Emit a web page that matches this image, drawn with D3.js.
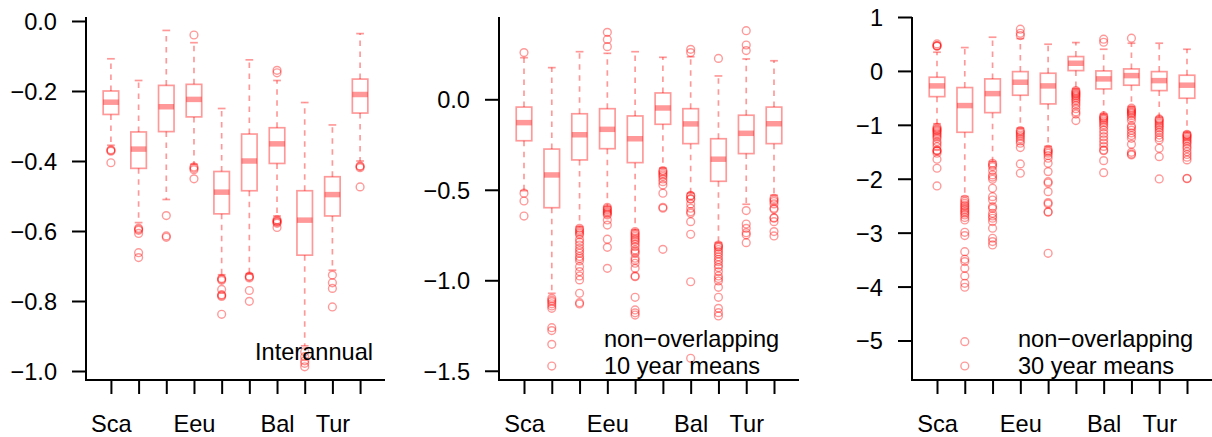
<!DOCTYPE html>
<html>
<head>
<meta charset="utf-8">
<script src="https://cdn.jsdelivr.net/npm/d3@7"></script>
<style>
  html, body { margin: 0; padding: 0; background: #fff; }
  svg text { font-family: "Liberation Sans", Arial, Helvetica, sans-serif; fill: #000; }
</style>
</head>
<body>
<svg id="chart" width="1212" height="437"></svg>
<script>
// Region tick labels (blank where the axis leaves a slot unlabelled)
const regionLabels = ["Sca", "", "", "Eeu", "", "", "Bal", "", "Tur", ""];

// Panel A: interannual values
const aHi  = [-0.108, -0.170, -0.027, -0.062, -0.250, -0.111, -0.170, -0.233, -0.297, -0.036];
const aQ3  = [-0.200, -0.317, -0.184, -0.181, -0.430, -0.323, -0.305, -0.485, -0.445, -0.166];
const aMed = [-0.232, -0.366, -0.245, -0.224, -0.489, -0.400, -0.351, -0.569, -0.496, -0.210];
const aQ1  = [-0.267, -0.421, -0.316, -0.274, -0.551, -0.485, -0.407, -0.669, -0.557, -0.263];
const aLo  = [-0.355, -0.576, -0.510, -0.409, -0.725, -0.722, -0.557, -0.928, -0.712, -0.400];
const aOut = [
  [-0.368, -0.370, -0.372, -0.405],
  [-0.592, -0.595, -0.598, -0.607, -0.662, -0.676],
  [-0.556, -0.614, -0.618],
  [-0.040, -0.417, -0.421, -0.425, -0.451],
  [-0.736, -0.738, -0.741, -0.767, -0.782, -0.784, -0.787, -0.838],
  [-0.729, -0.731, -0.734, -0.770, -0.801],
  [-0.141, -0.148, -0.568, -0.571, -0.573, -0.575, -0.578, -0.590],
  [-0.945, -0.959, -0.971, -0.978, -0.988],
  [-0.726, -0.748, -0.764, -0.817],
  [-0.414, -0.416, -0.419, -0.474]
];

// Panel B: non-overlapping 10 year means
const bHi  = [0.230, 0.175, 0.263, 0.254, 0.263, 0.232, 0.235, 0.129, 0.223, 0.213];
const bQ3  = [-0.043, -0.275, -0.080, -0.052, -0.092, 0.035, -0.052, -0.218, -0.088, -0.043];
const bMed = [-0.129, -0.418, -0.196, -0.166, -0.218, -0.048, -0.136, -0.331, -0.188, -0.135];
const bQ1  = [-0.229, -0.599, -0.335, -0.273, -0.350, -0.138, -0.245, -0.453, -0.300, -0.245];
const bLo  = [-0.505, -1.072, -0.704, -0.593, -0.722, -0.380, -0.519, -0.792, -0.580, -0.530];
const bOut = [
  [0.258, -0.519, -0.562, -0.645],
  [-1.100, -1.110, -1.118, -1.130, -1.142, -1.155, -1.262, -1.278, -1.354, -1.474],
  [-0.713, -0.722, -0.731, -0.740, -0.749, -0.773, -0.789, -0.805, -0.823, -0.837, -0.851, -0.869,
   -0.880, -0.893, -0.925, -0.952, -0.976, -0.998, -1.072, -1.124, -1.131],
  [0.370, 0.331, 0.291, -0.597, -0.605, -0.612, -0.620, -0.626, -0.633, -0.639, -0.667, -0.695,
   -0.773, -0.818, -0.934],
  [-0.731, -0.740, -0.749, -0.758, -0.768, -0.777, -0.786, -0.800, -0.814, -0.833, -0.842, -0.851,
   -0.878, -0.890, -0.906, -0.934, -0.976, -0.980, -1.094, -1.164, -1.180, -1.192],
  [-0.394, -0.400, -0.409, -0.418, -0.427, -0.440, -0.455, -0.474, -0.519, -0.597, -0.602, -0.829],
  [0.276, 0.258, -0.531, -0.534, -0.549, -0.552, -0.578, -0.602, -0.621, -0.630, -0.676, -0.746,
   -1.008, -1.431],
  [0.226, -0.805, -0.812, -0.818, -0.830, -0.842, -0.855, -0.870, -0.885, -0.897, -0.915, -0.930,
   -0.952, -0.976, -0.990, -1.004, -1.039, -1.094, -1.155, -1.179, -1.197],
  [0.379, 0.300, 0.269, -0.615, -0.689, -0.713, -0.737, -0.749, -0.792],
  [-0.547, -0.556, -0.565, -0.578, -0.602, -0.608, -0.654, -0.657, -0.676, -0.731, -0.755]
];

// Panel C: non-overlapping 30 year means
const cHi  = [0.347, 0.433, 0.625, 0.600, 0.495, 0.526, 0.402, 0.514, 0.514, 0.402];
const cQ3  = [-0.117, -0.309, -0.148, -0.013, -0.043, 0.266, 0.000, 0.037, -0.013, -0.080];
const cMed = [-0.278, -0.643, -0.421, -0.210, -0.278, 0.142, -0.148, -0.087, -0.180, -0.265];
const cQ1  = [-0.477, -1.138, -0.774, -0.451, -0.612, 0.006, -0.334, -0.265, -0.365, -0.507];
const cLo  = [-0.980, -2.330, -1.680, -1.060, -1.400, -0.330, -0.800, -0.660, -0.860, -1.140];
const cOut = [
  [0.501, 0.470, 0.464, 0.458, -1.045, -1.070, -1.090, -1.107, -1.130, -1.156, -1.185, -1.218,
   -1.250, -1.311, -1.350, -1.404, -1.470, -1.478, -1.490, -1.527, -1.638, -1.805, -2.134],
  [-2.381, -2.420, -2.455, -2.490, -2.517, -2.550, -2.579, -2.610, -2.640, -2.672, -2.720, -2.764,
   -2.993, -3.055, -3.352, -3.494, -3.537, -3.661, -3.803, -3.939, -4.013, -5.022, -5.473],
  [-1.713, -1.745, -1.775, -1.849, -1.929, -1.970, -2.010, -2.177, -2.332, -2.394, -2.517, -2.549,
   -2.641, -2.690, -2.733, -2.795, -2.918, -3.104, -3.166, -3.228],
  [0.774, 0.699, 0.656, -1.107, -1.130, -1.156, -1.190, -1.220, -1.260, -1.300, -1.342, -1.422,
   -1.725, -1.898],
  [-1.453, -1.480, -1.500, -1.527, -1.570, -1.620, -1.713, -1.868, -2.054, -2.080, -2.239, -2.443,
   -2.468, -2.610, -2.622, -3.383],
  [-0.365, -0.390, -0.410, -0.430, -0.450, -0.470, -0.500, -0.530, -0.560, -0.600, -0.640, -0.700,
   -0.760, -0.800, -0.922],
  [0.588, 0.532, -0.835, -0.860, -0.880, -0.900, -0.930, -0.960, -1.000, -1.040, -1.100, -1.160,
   -1.220, -1.280, -1.340, -1.400, -1.466, -1.480, -1.664, -1.887],
  [0.607, -0.692, -0.720, -0.740, -0.760, -0.780, -0.800, -0.830, -0.870, -0.920, -1.020, -1.050,
   -1.100, -1.150, -1.200, -1.250, -1.360, -1.510, -1.540, -1.558],
  [-0.891, -0.910, -0.940, -0.970, -1.000, -1.030, -1.060, -1.100, -1.140, -1.190, -1.240, -1.280,
   -1.434, -1.590, -2.004],
  [-1.175, -1.190, -1.210, -1.230, -1.260, -1.290, -1.320, -1.350, -1.400, -1.440, -1.500, -1.550,
   -1.600, -1.651, -1.991, -2.000]
];

// Y tick values and legend lines for each panel
const aTicks = [0, -0.2, -0.4, -0.6, -0.8, -1.0];
const bTicks = [0, -0.5, -1.0, -1.5];
const cTicks = [1, 0, -1, -2, -3, -4, -5];
const aLegend = ["Interannual"];
const bLegend = ["non\u2212overlapping", "10 year means"];
const cLegend = ["non\u2212overlapping", "30 year means"];

const panels = [
  { left: 86,  right: 385,  ydom: [-1.0257, 0.0114], ticks: aTicks, fmt: d3.format(".1f"),
    hi: aHi, q3: aQ3, med: aMed, q1: aQ1, lo: aLo, out: aOut, legend: aLegend, legendX: 255, legendY: [360] },
  { left: 499, right: 799,  ydom: [-1.551, 0.4547],  ticks: bTicks, fmt: d3.format(".1f"),
    hi: bHi, q3: bQ3, med: bMed, q1: bQ1, lo: bLo, out: bOut, legend: bLegend, legendX: 604, legendY: [346.5, 373.5] },
  { left: 912, right: 1212, ydom: [-5.733, 1.0],    ticks: cTicks, fmt: d3.format("d"),
    hi: cHi, q3: cQ3, med: cMed, q1: cQ1, lo: cLo, out: cOut, legend: cLegend, legendX: 1018, legendY: [346.5, 373.5] }
];

const plotTop = 17, plotBottom = 380;
const markColor = "rgba(255,0,0,0.4)";
const fontSize = 23.6;
const svg = d3.select("#chart");

const minusFmt = (f) => (v) => f(v).replace("-", "\u2212");

panels.forEach((p) => {
  const idx = d3.range(1, p.hi.length + 1);
  const x = d3.scaleLinear().domain([0.1, p.hi.length + 0.9]).range([p.left, p.right]);
  const y = d3.scaleLinear().domain(p.ydom).range([plotBottom, plotTop]);
  const unit = x(2) - x(1);
  const half = 0.28 * unit, staple = 0.14 * unit;
  const g = svg.append("g");

  // Boxes
  idx.forEach((i) => {
    const k = i - 1, cx = x(i);
    const bx = g.append("g").attr("fill", "none").attr("stroke", markColor);
    // whiskers (dashed) and staples
    bx.append("line").attr("x1", cx).attr("x2", cx).attr("y1", y(p.q3[k])).attr("y2", y(p.hi[k]))
      .attr("stroke-width", 1.7).attr("stroke-dasharray", "5.5,5.5");
    bx.append("line").attr("x1", cx).attr("x2", cx).attr("y1", y(p.q1[k])).attr("y2", y(p.lo[k]))
      .attr("stroke-width", 1.7).attr("stroke-dasharray", "5.5,5.5");
    bx.append("line").attr("x1", cx - staple).attr("x2", cx + staple).attr("y1", y(p.hi[k])).attr("y2", y(p.hi[k]))
      .attr("stroke-width", 1.7);
    bx.append("line").attr("x1", cx - staple).attr("x2", cx + staple).attr("y1", y(p.lo[k])).attr("y2", y(p.lo[k]))
      .attr("stroke-width", 1.7);
    // box
    bx.append("rect").attr("x", cx - half).attr("width", 2 * half)
      .attr("y", y(p.q3[k])).attr("height", y(p.q1[k]) - y(p.q3[k]))
      .attr("stroke-width", 1.7);
    // median
    bx.append("line").attr("x1", cx - half).attr("x2", cx + half).attr("y1", y(p.med[k])).attr("y2", y(p.med[k]))
      .attr("stroke-width", 5.5);
    // outliers
    bx.selectAll("circle").data(p.out[k]).join("circle")
      .attr("cx", cx).attr("cy", (d) => y(d)).attr("r", 3.9).attr("stroke-width", 1.4);
  });

  // L-shaped frame
  g.append("path")
    .attr("d", `M${p.left},${plotTop}V${plotBottom}H${p.right}`)
    .attr("fill", "none").attr("stroke", "#000").attr("stroke-width", 2);

  // Y axis
  const yAxis = d3.axisLeft(y).tickValues(p.ticks).tickSize(14).tickPadding(15).tickFormat(minusFmt(p.fmt));
  const ya = g.append("g").attr("transform", `translate(${p.left},0)`).call(yAxis);
  ya.select(".domain").remove();
  ya.selectAll(".tick line").attr("stroke", "#000").attr("stroke-width", 2);
  ya.selectAll(".tick text").attr("font-size", fontSize).attr("dy", "0.36em")
    .style("font-family", '"Liberation Sans", Arial, sans-serif');

  // X axis
  const xAxis = d3.axisBottom(x).tickValues(idx).tickSize(14).tickPadding(21)
    .tickFormat((d) => regionLabels[d - 1]);
  const xa = g.append("g").attr("transform", `translate(0,${plotBottom})`).call(xAxis);
  xa.select(".domain").remove();
  xa.selectAll(".tick line").attr("stroke", "#000").attr("stroke-width", 2);
  xa.selectAll(".tick text").attr("font-size", fontSize)
    .style("font-family", '"Liberation Sans", Arial, sans-serif');

  // Legend text
  p.legend.forEach((t, j) => {
    g.append("text").attr("x", p.legendX).attr("y", p.legendY[j]).attr("font-size", fontSize).text(t);
  });
});
</script>
</body>
</html>
